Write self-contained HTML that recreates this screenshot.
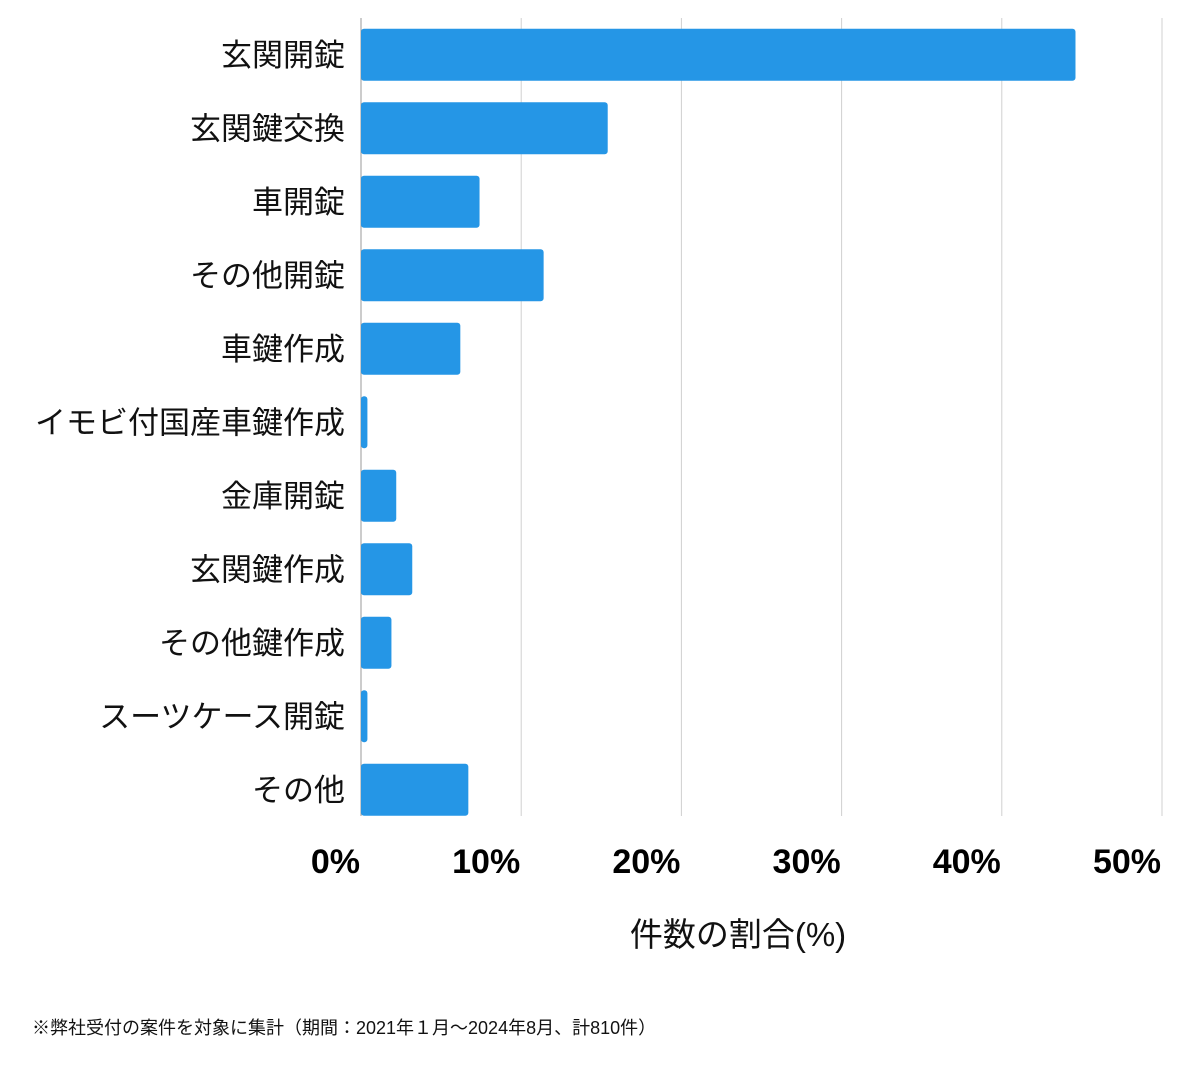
<!DOCTYPE html>
<html><head><meta charset="utf-8"><style>
body{margin:0;background:#fff;}
svg text{font-family:"Liberation Sans","Noto Sans CJK JP",sans-serif;}
</style></head><body>
<svg id="chart" width="1200" height="1069" xmlns="http://www.w3.org/2000/svg">
<g id="grid"></g>
<g id="bars"></g>
<g id="cats"></g>
<g id="ticks"></g>
<text x="738" y="946" text-anchor="middle" font-size="33" fill="#111">件数の割合(%)</text>
<text x="32" y="1034" font-size="18" fill="#111">※弊社受付の案件を対象に集計（期間：2021年１月〜2024年8月、計810件）</text>
</svg>
<script>
const categories=["玄関開錠","玄関鍵交換","車開錠","その他開錠","車鍵作成","イモビ付国産車鍵作成","金庫開錠","玄関鍵作成","その他鍵作成","スーツケース開錠","その他"];
const values=[44.6,15.4,7.4,11.4,6.2,0.4,2.2,3.2,1.9,0.4,6.7];
const tickValues=[0,10,20,30,40,50];
const tickLabels=["0%","10%","20%","30%","40%","50%"];
const NS="http://www.w3.org/2000/svg";
const x0=361,pxPer=16.02,rowTop=18,rowH=73.5,barH=52;
const xs=v=>x0+v*pxPer;
const yc=i=>rowTop+rowH*i+rowH/2;
function mk(t,a,p){const e=document.createElementNS(NS,t);for(const k in a)e.setAttribute(k,a[k]);p.appendChild(e);return e;}
const grid=document.getElementById('grid'),bars=document.getElementById('bars'),cats=document.getElementById('cats'),ticks=document.getElementById('ticks');
tickValues.forEach((v,i)=>{
 const l=mk('line',{x1:xs(v),x2:xs(v),y1:18,y2:816,stroke:i==0?'#999':'#d0d0d0','stroke-width':1},grid);
 
 
 const t=mk('text',{x:xs(v)-1,y:873,'text-anchor':'end','font-size':34,'font-weight':'bold',fill:'#000'},ticks);
 t.textContent=tickLabels[i];
 
 
});
categories.forEach((c,i)=>{
 const r=mk('rect',{x:x0,y:yc(i)-barH/2,width:Math.max(0,xs(values[i])-x0),height:barH,rx:3,fill:'#2596e6'},bars);
 
 
 const t=mk('text',{x:345,y:yc(i)+11,'text-anchor':'end','font-size':31,fill:'#111'},cats);
 t.textContent=c;
 
 
});
</script>
</body></html>
